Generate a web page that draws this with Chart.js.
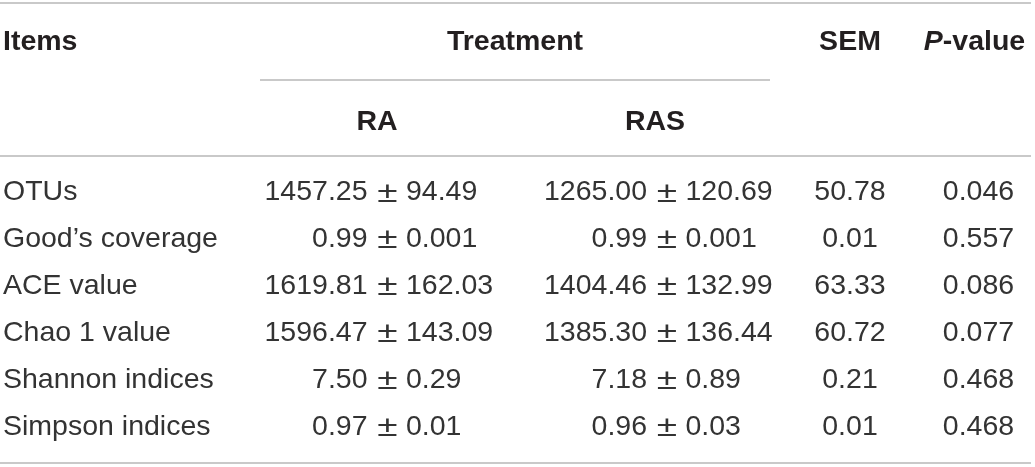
<!DOCTYPE html>
<html>
<head>
<meta charset="utf-8">
<script src="https://cdn.jsdelivr.net/npm/chart.js@4.4.1/dist/chart.umd.min.js"></script>
<style>
html,body{margin:0;padding:0;background:#fff;}
#wrap{width:1035px;height:467px;}
</style>
</head>
<body>
<div id="wrap"><canvas id="c" width="1035" height="467" aria-label="Table: alpha diversity of RA and RAS treatments"></canvas></div>
<script>
// ---- data ----
const items = ["OTUs", "Good\u2019s coverage", "ACE value", "Chao 1 value", "Shannon indices", "Simpson indices"];
const raMean = [1457.25, 0.99, 1619.81, 1596.47, 7.50, 0.97];
const raSD = [94.49, 0.001, 162.03, 143.09, 0.29, 0.01];
const rasMean = [1265.00, 0.99, 1404.46, 1385.30, 7.18, 0.96];
const rasSD = [120.69, 0.001, 132.99, 136.44, 0.89, 0.03];
const sdDecimals = [2, 3, 2, 2, 2, 2];
const sem = [50.78, 0.01, 63.33, 60.72, 0.21, 0.01];
const pValue = [0.046, 0.557, 0.086, 0.077, 0.468, 0.468];
const groupHeader = "Treatment";
const subHeaders = ["RA", "RAS"];
const colHeaders = ["Items", "SEM", "P-value"];

// ---- layout (column anchors in x units, rows in row units) ----
const COL = {items: 3, ra: 387.5, ras: 667, sem: 850, p: 978.5, treat: 515, raHead: 377, rasHead: 655};
const HEAD1 = -3.209, HEAD2 = -1.503;
const LINE_TOP = -4.03, LINE_TREAT = -2.399, LINE_HEAD = -0.778, LINE_BOT = 5.768;

const FONT = '"Liberation Sans", Arial, Helvetica, sans-serif';
const BODY_SIZE = 28.5;
const TEXT_COLOR = '#333333';
const HEAD_COLOR = '#231f20';
const RULE_COLOR = '#c9c9c9';

function pts(x) { return items.map((_, i) => ({x: x, y: i})); }

const tablePlugin = {
  id: 'tablePlugin',
  afterDatasetsDraw(chart) {
    const ctx = chart.ctx;
    const xs = chart.scales.x, ys = chart.scales.y;
    const X = v => xs.getPixelForValue(v);
    const Y = v => ys.getPixelForValue(v);
    ctx.save();
    // rules
    ctx.strokeStyle = RULE_COLOR;
    ctx.lineWidth = 2;
    const hline = (y, x0, x1) => { const py = Math.round(Y(y)); ctx.beginPath(); ctx.moveTo(x0, py); ctx.lineTo(x1, py); ctx.stroke(); };
    hline(LINE_TOP, 0, X(1031));
    hline(LINE_TREAT, X(260), X(770));
    hline(LINE_HEAD, 0, X(1031));
    hline(LINE_BOT, 0, X(1031));

    // headers
    ctx.fillStyle = HEAD_COLOR;
    ctx.textBaseline = 'middle';
    const pBold = 'bold ' + BODY_SIZE + 'px ' + FONT;
    const pItalic = 'italic bold ' + BODY_SIZE + 'px ' + FONT;
    ctx.font = pBold;
    ctx.textAlign = 'left';
    ctx.fillText(colHeaders[0], X(COL.items), Y(HEAD1));
    ctx.textAlign = 'center';
    ctx.fillText(groupHeader, X(COL.treat), Y(HEAD1));
    ctx.fillText(colHeaders[1], X(COL.sem), Y(HEAD1));
    // P-value with italic P
    ctx.font = pItalic; const wP = ctx.measureText('P').width;
    ctx.font = pBold; const wRest = ctx.measureText(colHeaders[2].slice(1)).width;
    const pStart = X(COL.p - 4) - (wP + wRest) / 2;
    ctx.textAlign = 'left';
    ctx.font = pItalic; ctx.fillText('P', pStart, Y(HEAD1));
    ctx.font = pBold; ctx.fillText(colHeaders[2].slice(1), pStart + wP, Y(HEAD1));
    ctx.textAlign = 'center';
    ctx.fillText(subHeaders[0], X(COL.raHead), Y(HEAD2));
    ctx.fillText(subHeaders[1], X(COL.rasHead), Y(HEAD2));

    // body cells, drawn at dataset element positions
    const bodyFont = BODY_SIZE + 'px ' + FONT;
    ctx.font = bodyFont;
    ctx.fillStyle = TEXT_COLOR;
    const pm = '\u00B1';
    chart.data.datasets.forEach((ds, di) => {
      const meta = chart.getDatasetMeta(di);
      meta.data.forEach((el, i) => {
        const x = el.x, y = el.y;
        if (ds.kind === 'label') {
          ctx.textAlign = 'left';
          ctx.fillText(items[i], x, y);
        } else if (ds.kind === 'meansd') {
          const m = ds.mean[i].toFixed(2);
          const s = ds.sd[i].toFixed(sdDecimals[i]);
          // plus-minus sign, slightly wider as in the source typeface
          ctx.save();
          ctx.translate(x, y + 1);
          ctx.scale(1.3, 1.02);
          ctx.textAlign = 'center';
          ctx.fillText(pm, 0, 0);
          ctx.restore();
          ctx.font = bodyFont;
          ctx.textAlign = 'right';
          ctx.fillText(m, x - 20, y);
          ctx.textAlign = 'left';
          ctx.fillText(s, x + 18.5, y);
        } else if (ds.kind === 'num') {
          ctx.textAlign = 'center';
          ctx.fillText(ds.vals[i].toFixed(ds.dec), x, y);
        }
      });
    });
    ctx.restore();
  }
};

new Chart(document.getElementById('c'), {
  type: 'scatter',
  data: {
    datasets: [
      {label: 'Items', kind: 'label', data: pts(COL.items)},
      {label: 'RA', kind: 'meansd', mean: raMean, sd: raSD, data: pts(COL.ra)},
      {label: 'RAS', kind: 'meansd', mean: rasMean, sd: rasSD, data: pts(COL.ras)},
      {label: 'SEM', kind: 'num', vals: sem, dec: 2, data: pts(COL.sem)},
      {label: 'P-value', kind: 'num', vals: pValue, dec: 3, data: pts(COL.p)}
    ]
  },
  options: {
    responsive: false,
    animation: false,
    devicePixelRatio: 1,
    layout: {padding: 0},
    elements: {point: {radius: 0, hoverRadius: 0}},
    plugins: {legend: {display: false}, tooltip: {enabled: false}},
    events: [],
    scales: {
      x: {type: 'linear', display: false, min: 0, max: 1035},
      y: {type: 'linear', display: false, min: -4.104, max: 5.853, reverse: true}
    }
  },
  plugins: [tablePlugin]
});
</script>
</body>
</html>
